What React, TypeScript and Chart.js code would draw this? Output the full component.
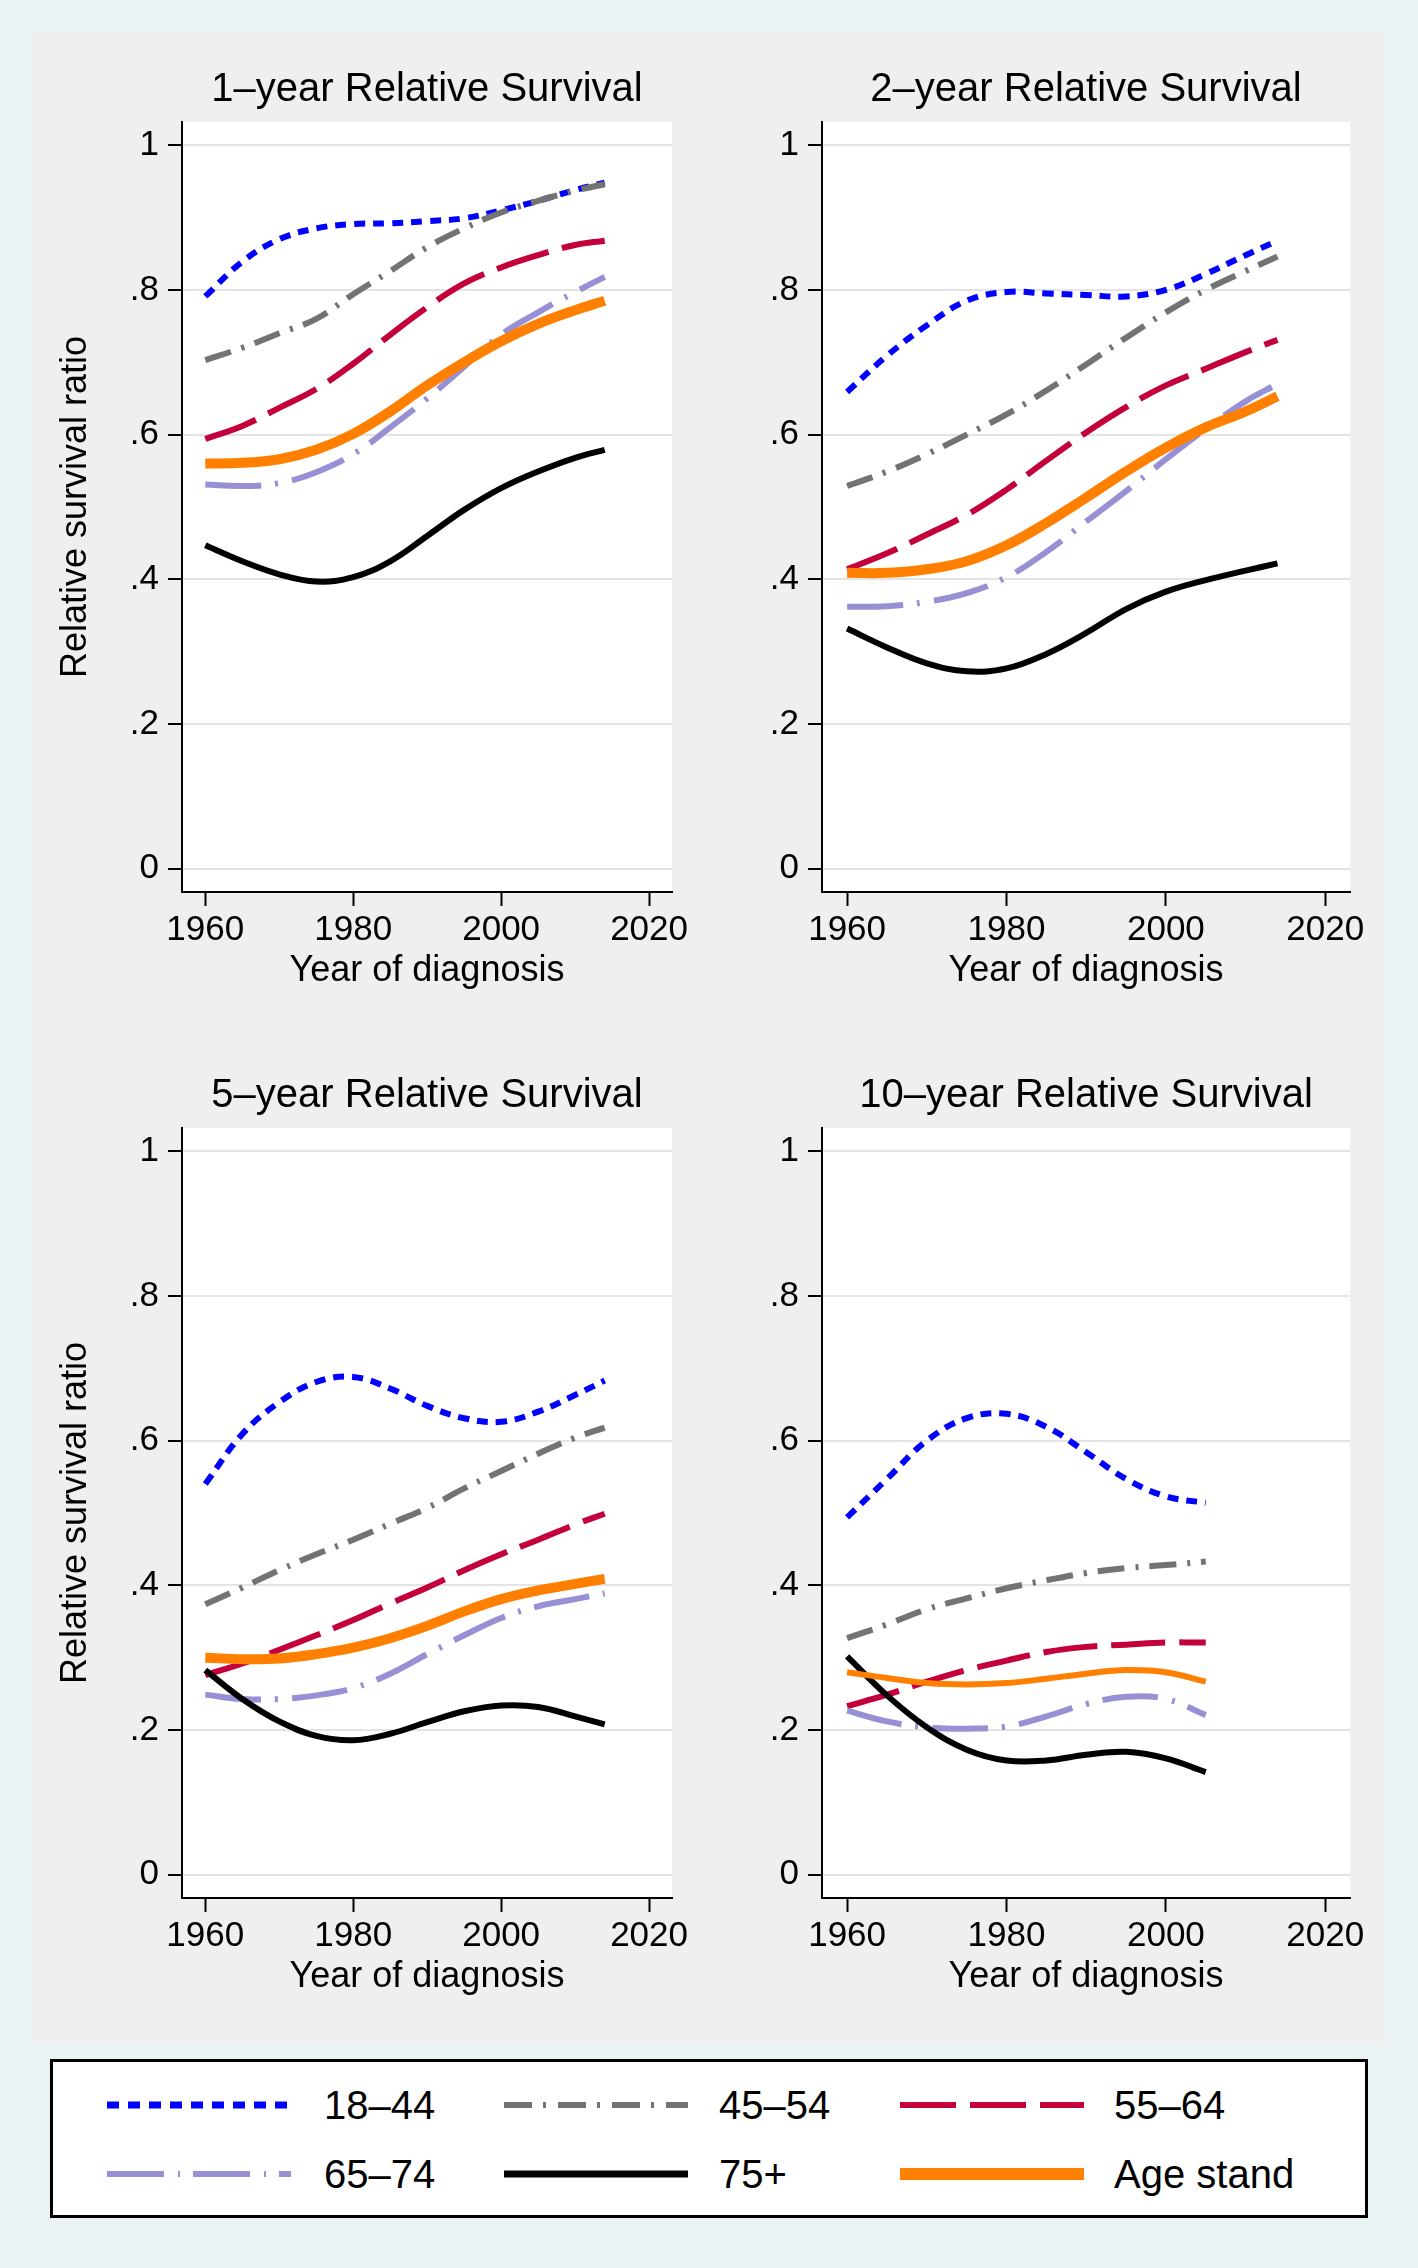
import React, { useEffect, useRef } from "react";
import { Chart, registerables } from "chart.js";

Chart.register(...registerables);

const FONT = "'Liberation Sans', Arial, Helvetica, sans-serif";

// ---------- data ----------
const YEARS_TO_2014 = [1960, 1965, 1970, 1975, 1980, 1985, 1990, 1995, 2000, 2005, 2010, 2014];
const YEARS_TO_2005 = [1960, 1965, 1970, 1975, 1980, 1985, 1990, 1995, 2000, 2005];

const AGE_GROUPS = ["18–44", "45–54", "55–64", "65–74", "75+", "Age stand"];
const PANEL_TITLES = [
  "1–year Relative Survival",
  "2–year Relative Survival",
  "5–year Relative Survival",
  "10–year Relative Survival",
];
const X_TICKS = [1960, 1980, 2000, 2020];
const Y_TICKS = [0, 0.2, 0.4, 0.6, 0.8, 1];
const Y_TICK_LABELS = ["0", ".2", ".4", ".6", ".8", "1"];

// 1-year relative survival
const rs1_18_44 = [0.791, 0.839, 0.870, 0.885, 0.891, 0.892, 0.895, 0.899, 0.910, 0.923, 0.938, 0.948];
const rs1_45_54 = [0.703, 0.720, 0.740, 0.760, 0.794, 0.826, 0.859, 0.885, 0.907, 0.923, 0.937, 0.946];
const rs1_55_64 = [0.594, 0.612, 0.637, 0.663, 0.698, 0.738, 0.776, 0.809, 0.831, 0.848, 0.862, 0.868];
const rs1_65_74 = [0.531, 0.529, 0.533, 0.548, 0.573, 0.610, 0.650, 0.694, 0.738, 0.769, 0.797, 0.818];
const rs1_75p = [0.447, 0.425, 0.407, 0.397, 0.403, 0.425, 0.460, 0.496, 0.526, 0.549, 0.568, 0.579];
const rs1_std = [0.560, 0.561, 0.566, 0.579, 0.601, 0.632, 0.668, 0.700, 0.729, 0.753, 0.772, 0.785];

// 2-year relative survival
const rs2_18_44 = [0.659, 0.709, 0.751, 0.785, 0.797, 0.795, 0.793, 0.791, 0.800, 0.822, 0.848, 0.868];
const rs2_45_54 = [0.529, 0.549, 0.573, 0.600, 0.628, 0.661, 0.697, 0.734, 0.769, 0.800, 0.826, 0.846];
const rs2_55_64 = [0.414, 0.436, 0.462, 0.489, 0.524, 0.564, 0.603, 0.638, 0.668, 0.691, 0.714, 0.731];
const rs2_65_74 = [0.362, 0.363, 0.369, 0.381, 0.403, 0.438, 0.480, 0.522, 0.566, 0.608, 0.646, 0.670];
const rs2_75p = [0.332, 0.306, 0.284, 0.273, 0.277, 0.297, 0.326, 0.359, 0.383, 0.399, 0.412, 0.422];
const rs2_std = [0.409, 0.409, 0.414, 0.425, 0.447, 0.478, 0.513, 0.549, 0.582, 0.610, 0.632, 0.653];

// 5-year relative survival
const rs5_18_44 = [0.540, 0.609, 0.653, 0.681, 0.688, 0.672, 0.648, 0.631, 0.626, 0.640, 0.663, 0.683];
const rs5_45_54 = [0.374, 0.397, 0.421, 0.443, 0.463, 0.485, 0.507, 0.534, 0.558, 0.582, 0.604, 0.618];
const rs5_55_64 = [0.276, 0.292, 0.311, 0.331, 0.352, 0.375, 0.397, 0.421, 0.443, 0.463, 0.484, 0.499];
const rs5_65_74 = [0.249, 0.243, 0.243, 0.248, 0.258, 0.278, 0.305, 0.331, 0.355, 0.371, 0.381, 0.389];
const rs5_75p = [0.283, 0.243, 0.212, 0.192, 0.186, 0.195, 0.211, 0.226, 0.234, 0.232, 0.219, 0.208];
const rs5_std = [0.300, 0.298, 0.299, 0.305, 0.314, 0.327, 0.344, 0.364, 0.381, 0.393, 0.402, 0.409];

// 10-year relative survival
const rs10_18_44 = [0.494, 0.547, 0.600, 0.631, 0.637, 0.619, 0.584, 0.547, 0.523, 0.514];
const rs10_45_54 = [0.327, 0.346, 0.367, 0.382, 0.396, 0.407, 0.417, 0.424, 0.428, 0.433];
const rs10_55_64 = [0.233, 0.249, 0.267, 0.283, 0.296, 0.308, 0.315, 0.318, 0.321, 0.321];
const rs10_65_74 = [0.227, 0.212, 0.204, 0.202, 0.205, 0.219, 0.236, 0.246, 0.243, 0.221];
const rs10_75p = [0.302, 0.248, 0.204, 0.173, 0.158, 0.158, 0.166, 0.170, 0.161, 0.142];
const rs10_std = [0.280, 0.272, 0.265, 0.263, 0.265, 0.271, 0.278, 0.283, 0.280, 0.267];

// ---------- styles ----------
const COLORS = ["#0000FF", "#737373", "#C4003A", "#9890D4", "#000000", "#FF8000"];
const PLOT_DASHES = [[11, 8], [27, 11, 3, 11], [54, 14], [56, 14, 3, 14], [], []];
const LEGEND_DASHES = ["12 9", "28 11 3 12", "56 14", "57 14 2 13", "", ""];
const LEGEND_WIDTHS = [7, 6, 6, 6, 7, 12];

const X_MIN = 1956.85;
const X_MAX = 2023.1;
const Y_MIN = -0.032;
const Y_MAX = 1.032;

const plotBg = {
  id: "plotBg",
  beforeDraw(chart: any) {
    const { ctx, chartArea: a } = chart;
    ctx.save();
    ctx.fillStyle = "#ffffff";
    ctx.fillRect(a.left, a.top, a.right - a.left, a.bottom - a.top);
    ctx.restore();
  },
};

type PanelProps = {
  title: string;
  years: number[];
  series: number[][];
  left: number;
  top: number;
  showYTitle: boolean;
  orangeWidth: number;
};

const CANVAS_H = 975;

function Panel({ title, years, series, left, top, showYTitle, orangeWidth }: PanelProps) {
  const ref = useRef<HTMLCanvasElement>(null);
  const yW = showYTitle ? 150 : 113;
  const areaW = showYTitle ? 490 : 528;
  const W = yW + areaW + 30;

  useEffect(() => {
    if (!ref.current) return;
    const datasets = series.map((vals, i) => ({
      label: AGE_GROUPS[i],
      data: years.map((yr, j) => ({ x: yr, y: vals[j] })),
      borderColor: COLORS[i],
      backgroundColor: COLORS[i],
      borderWidth: i === 5 ? orangeWidth : 6,
      borderDash: PLOT_DASHES[i],
      borderCapStyle: "butt" as const,
      pointRadius: 0,
      tension: 0.4,
      fill: false,
      order: AGE_GROUPS.length - 1 - i,
    }));

    const tickFont = { family: FONT, size: 35 };
    const axisTitleFont = { family: FONT, size: 36 };

    const chart = new Chart(ref.current, {
      type: "line",
      data: { datasets },
      plugins: [plotBg],
      options: {
        animation: false,
        responsive: false,
        maintainAspectRatio: false,
        devicePixelRatio: 1,
        events: [],
        layout: { padding: { left: 0, right: 30, top: 0, bottom: 0 } },
        plugins: {
          legend: { display: false },
          tooltip: { enabled: false },
          title: {
            display: true,
            text: title,
            color: "#000",
            fullSize: false,
            align: "center",
            font: { family: FONT, size: 40, weight: "normal", lineHeight: 1.2 },
            padding: { top: 34, bottom: 8 },
          },
        },
        scales: {
          x: {
            type: "linear",
            min: X_MIN,
            max: X_MAX,
            afterBuildTicks: (s: any) => {
              s.ticks = X_TICKS.map((v) => ({ value: v }));
            },
            afterFit: (s: any) => {
              s.height = CANVAS_H - 860;
            },
            ticks: {
              color: "#000",
              font: tickFont,
              padding: 3,
              maxRotation: 0,
              autoSkip: false,
              callback: (v: any) => String(v),
            },
            grid: {
              drawOnChartArea: false,
              drawTicks: true,
              tickLength: 14,
              tickColor: "#000",
              tickWidth: 2,
            },
            border: { display: true, color: "#000", width: 2 },
            title: {
              display: true,
              text: "Year of diagnosis",
              color: "#000",
              font: { ...axisTitleFont, lineHeight: 1.2 },
              padding: { top: 0, bottom: 14.5 },
            },
          },
          y: {
            type: "linear",
            min: Y_MIN,
            max: Y_MAX,
            afterBuildTicks: (s: any) => {
              s.ticks = Y_TICKS.map((v) => ({ value: v }));
            },
            afterFit: (s: any) => {
              s.width = yW;
            },
            ticks: {
              color: "#000",
              font: tickFont,
              padding: 9,
              autoSkip: false,
              callback: (_v: any, i: number) => Y_TICK_LABELS[i],
            },
            grid: {
              color: "#E4E4E4",
              lineWidth: 2,
              drawTicks: true,
              tickLength: 14,
              tickColor: "#000",
              tickWidth: 2,
            },
            border: { display: true, color: "#000", width: 2 },
            title: {
              display: showYTitle,
              text: "Relative survival ratio",
              color: "#000",
              font: { ...axisTitleFont, lineHeight: 1.2 },
              padding: { top: 22.5, bottom: 0 },
            },
          },
        },
      } as any,
    });
    return () => chart.destroy();
  }, []);

  return (
    <canvas
      ref={ref}
      width={W}
      height={CANVAS_H}
      style={{ position: "absolute", left, top, width: W, height: CANVAS_H }}
    />
  );
}

const PANELS = [
  { title: PANEL_TITLES[0], years: YEARS_TO_2014, series: [rs1_18_44, rs1_45_54, rs1_55_64, rs1_65_74, rs1_75p, rs1_std], left: 32, top: 32, showYTitle: true, orangeWidth: 10 },
  { title: PANEL_TITLES[1], years: YEARS_TO_2014, series: [rs2_18_44, rs2_45_54, rs2_55_64, rs2_65_74, rs2_75p, rs2_std], left: 709, top: 32, showYTitle: false, orangeWidth: 10 },
  { title: PANEL_TITLES[2], years: YEARS_TO_2014, series: [rs5_18_44, rs5_45_54, rs5_55_64, rs5_65_74, rs5_75p, rs5_std], left: 32, top: 1038, showYTitle: true, orangeWidth: 10 },
  { title: PANEL_TITLES[3], years: YEARS_TO_2005, series: [rs10_18_44, rs10_45_54, rs10_55_64, rs10_65_74, rs10_75p, rs10_std], left: 709, top: 1038, showYTitle: false, orangeWidth: 6 },
];

const LEGEND_LINE_X = [107, 504, 900];
const LEGEND_TEXT_X = [324, 719, 1114];
const LEGEND_ROW_Y = [2105, 2174];

function Legend() {
  return (
    <>
      <div
        style={{
          position: "absolute",
          left: 50,
          top: 2059,
          width: 1318,
          height: 159,
          boxSizing: "border-box",
          border: "3px solid #000",
          background: "#fff",
        }}
      />
      {AGE_GROUPS.map((label, i) => {
        const col = i % 3;
        const row = Math.floor(i / 3);
        const cy = LEGEND_ROW_Y[row];
        return (
          <React.Fragment key={label}>
            <svg
              width={184}
              height={20}
              style={{ position: "absolute", left: LEGEND_LINE_X[col], top: cy - 10 }}
            >
              <line
                x1={0}
                y1={10}
                x2={184}
                y2={10}
                stroke={COLORS[i]}
                strokeWidth={LEGEND_WIDTHS[i]}
                strokeDasharray={LEGEND_DASHES[i] || undefined}
                strokeLinecap="butt"
              />
            </svg>
            <div
              style={{
                position: "absolute",
                left: LEGEND_TEXT_X[col],
                top: cy - 25,
                height: 50,
                lineHeight: "50px",
                fontFamily: FONT,
                fontSize: 40,
                color: "#000",
                whiteSpace: "nowrap",
              }}
            >
              {label}
            </div>
          </React.Fragment>
        );
      })}
    </>
  );
}

export default function App() {
  return (
    <div
      style={{
        position: "absolute",
        left: 0,
        top: 0,
        width: 1418,
        height: 2268,
        background: "#EAF2F3",
        overflow: "hidden",
      }}
    >
      <div
        style={{
          position: "absolute",
          left: 31,
          top: 32,
          width: 1355,
          height: 2011,
          background: "#EFEFEF",
        }}
      />
      {PANELS.map((p) => (
        <Panel key={p.title} {...p} />
      ))}
      <Legend />
    </div>
  );
}
